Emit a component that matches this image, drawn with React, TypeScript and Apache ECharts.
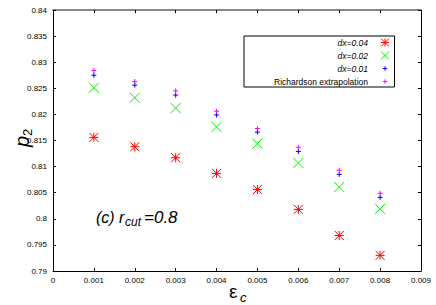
import React, { useEffect, useRef } from 'react';
import * as echarts from 'echarts';

const epsC = [0.001, 0.002, 0.003, 0.004, 0.005, 0.006, 0.007, 0.008];
const dx004 = [0.8156, 0.8138, 0.8117, 0.8087, 0.8056, 0.8018, 0.7968, 0.7930];
const dx002 = [0.8251, 0.8232, 0.8212, 0.8176, 0.8144, 0.8107, 0.8061, 0.8019];
const dx001 = [0.8275, 0.8256, 0.8237, 0.8199, 0.8166, 0.8129, 0.8085, 0.8041];
const richardson = [0.8284, 0.8263, 0.8245, 0.8206, 0.8173, 0.8137, 0.8093, 0.8049];
const seriesNames = ['dx=0.04', 'dx=0.02', 'dx=0.01', 'Richardson extrapolation'];
const seriesColors = ['#ff0000', '#00f000', '#0000ff', '#ff00ff'];
const xRange = { min: 0, max: 0.009, interval: 0.001 };
const yRange = { min: 0.79, max: 0.84, interval: 0.005 };

const FONT = '"Liberation Sans", Arial, Helvetica, sans-serif';
const ASTER = 'path://M0,0L10,10M10,0L0,10M5,0L5,10M0,5L10,5';
const CROSS = 'path://M0,0L10,10M10,0L0,10';
const PLUS = 'path://M5,0L5,10M0,5L10,5';
const PLUS_SMALL_ICON = 'path://M0,0L0.01,0M10,10L9.99,10M5,2.2L5,7.8M2.2,5L7.8,5';

const symbols = [ASTER, CROSS, PLUS, PLUS];
const legendIcons = [ASTER, CROSS, PLUS_SMALL_ICON, PLUS_SMALL_ICON];
const symbolSizes = [9, 10, 5, 5];
const allValues = [dx004, dx002, dx001, richardson];

const fmt = (v: number) => String(+v.toFixed(4));

export default function App() {
  const ref = useRef<HTMLDivElement>(null);
  useEffect(() => {
    if (!ref.current) return;
    const chart = echarts.init(ref.current, undefined, { renderer: 'svg' });
    const series = seriesNames.map((name, i) => ({
      name,
      type: 'scatter',
      xAxisIndex: 0,
      yAxisIndex: 0,
      symbol: symbols[i],
      symbolSize: symbolSizes[i],
      itemStyle: { color: seriesColors[i], borderColor: seriesColors[i], borderWidth: 1, opacity: 1 },
      emphasis: { disabled: true },
      data: epsC.map((x, k) => [x, allValues[i][k]]),
    }));
    const axisCommon = {
      splitLine: { show: false },
      axisTick: { show: true, inside: true, length: 3, lineStyle: { color: '#000', width: 1 } },
      axisLine: { show: true, onZero: false, lineStyle: { color: '#000', width: 1 } },
    };
    chart.setOption({
      animation: false,
      backgroundColor: '#fff',
      grid: { left: 53, right: 15, top: 10, bottom: 34 },
      xAxis: [
        {
          type: 'value', position: 'bottom', ...xRange, ...axisCommon,
          axisLabel: { fontFamily: FONT, fontSize: 8, color: '#000', margin: 5, formatter: fmt },
        },
        {
          type: 'value', position: 'top', ...xRange, ...axisCommon,
          axisLine: { show: true, onZero: false, lineStyle: { color: '#888', width: 2 } },
          axisLabel: { show: false },
        },
      ],
      yAxis: [
        {
          type: 'value', position: 'left', ...yRange, ...axisCommon,
          axisLabel: { fontFamily: FONT, fontSize: 8, color: '#000', margin: 6, formatter: fmt },
        },
        {
          type: 'value', position: 'right', ...yRange, ...axisCommon,
          axisLabel: { show: false },
        },
      ],
      legend: {
        orient: 'vertical',
        left: 244,
        top: 36,
        align: 'right',
        itemWidth: 24,
        itemHeight: 8,
        itemGap: 4,
        padding: [2, 5, 1, 30],
        borderColor: '#000',
        borderWidth: 1,
        borderRadius: 0,
        backgroundColor: '#fff',
        selectedMode: false,
        itemStyle: { borderWidth: 1 },
        data: seriesNames.map((name, i) => ({ name, icon: legendIcons[i] })),
        formatter: (n: string) => (n.startsWith('dx') ? `{i|${n}}` : `{n|${n}}`),
        textStyle: {
          fontFamily: FONT,
          fontSize: 8.5,
          color: '#000',
          rich: {
            i: { fontFamily: FONT, fontSize: 8.5, fontStyle: 'italic', color: '#000' },
            n: { fontFamily: FONT, fontSize: 8.5, color: '#000' },
          },
        },
      },
      graphic: [
        {
          type: 'group', x: 22, y: 138, rotation: Math.PI / 2, silent: true,
          children: [
            { type: 'text', x: -9, y: 0, style: { text: 'p', fontFamily: FONT, fontStyle: 'italic', fontSize: 20, fill: '#000', verticalAlign: 'middle', align: 'left' } },
            { type: 'text', x: 2, y: 5, style: { text: '2', fontFamily: FONT, fontSize: 13, fill: '#000', verticalAlign: 'middle', align: 'left' } },
          ],
        },
        { type: 'text', x: 229, y: 291, silent: true, style: { text: 'ε', fontFamily: FONT, fontSize: 19, fill: '#000', verticalAlign: 'middle', align: 'left' } },
        { type: 'text', x: 240, y: 297, silent: true, style: { text: 'c', fontFamily: FONT, fontStyle: 'italic', fontSize: 13, fill: '#000', verticalAlign: 'middle', align: 'left' } },
        { type: 'text', x: 96, y: 217.5, silent: true, style: { text: '(c) r', fontFamily: FONT, fontStyle: 'italic', fontSize: 16, fill: '#000', verticalAlign: 'middle', align: 'left' } },
        { type: 'text', x: 125, y: 222, silent: true, style: { text: 'cut', fontFamily: FONT, fontStyle: 'italic', fontSize: 12, fill: '#000', verticalAlign: 'middle', align: 'left' } },
        { type: 'text', x: 144, y: 217.5, silent: true, style: { text: '=0.8', fontFamily: FONT, fontStyle: 'italic', fontSize: 17, fill: '#000', verticalAlign: 'middle', align: 'left' } },
      ],
      series,
    });
    return () => chart.dispose();
  }, []);
  return <div ref={ref} style={{ position: 'fixed', left: 0, top: 0, width: 436, height: 305 }} />;
}
